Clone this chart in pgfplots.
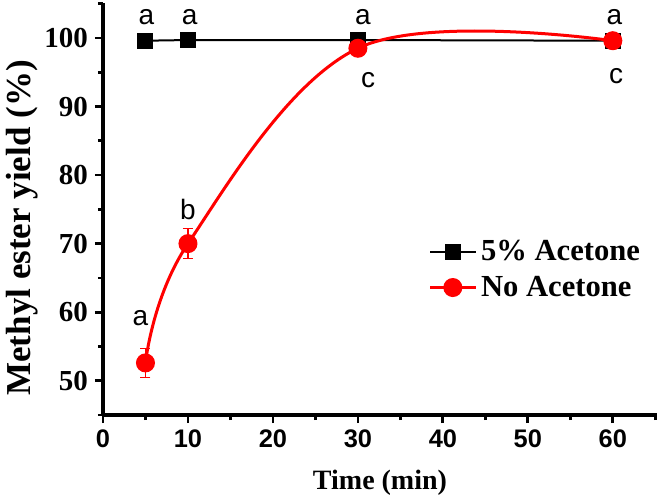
\documentclass[border=0pt]{standalone}
\usepackage{fontspec}
\setmainfont{Liberation Serif}
\newfontfamily\arial{Liberation Sans}
\usepackage{pgfplots}
\pgfplotsset{compat=1.18}
\definecolor{oRed}{RGB}{255,0,0}
\begin{document}
\begin{tikzpicture}
\useasboundingbox (-51.5pt,-42.5pt) rectangle (279pt,207.5pt);
\begin{axis}[
  scale only axis,
  width=277pt, height=206pt,
  xmin=0, xmax=65.2, ymin=45, ymax=105.1,
  axis x line*=bottom, axis y line*=left,
  axis line style={line width=1.8pt},
  xtick={0,10,...,60}, ytick={50,60,...,100},
  minor xtick={5,15,...,65}, minor ytick={45,55,...,105},
  tick align=outside,
  major tick length=4pt, minor tick length=2.5pt,
  every tick/.style={black, line width=1.4pt},
  /pgf/number format/assume math mode=true,
  xticklabel style={font=\arial\bfseries\fontsize{12.7}{12.7}\selectfont},
  yticklabel style={font=\bfseries\fontsize{14.5}{14.5}\selectfont},
  xlabel={\bfseries Time (min)},
  ylabel={\bfseries Methyl ester yield (\%)},
  xlabel style={font=\fontsize{14}{14}\selectfont, yshift=-4pt},
  ylabel style={font=\fontsize{17.5}{17.5}\selectfont, at={(rel axis cs:-0.146,0.454)}, anchor=center},
  legend cell align=left,
  legend image code/.code={\draw[mark repeat=2,mark phase=2] plot coordinates {(0cm,0cm) (0.4cm,0cm) (0.8cm,0cm)};},
  legend style={draw=none, fill=none, inner sep=0pt, at={(rel axis cs:0.587,0.434)}, anchor=north west,
    font=\bfseries\fontsize{15.3}{15.3}\selectfont, row sep=2pt},
]
\addplot[black, line width=1pt, mark=square*, mark size=3.5pt]
  coordinates {(5,99.6) (10,99.7) (30,99.7) (60,99.6)};
\addlegendentry{5\% Acetone}
\addplot[oRed, line width=1.5pt, smooth, tension=0.6,
  mark=*, mark size=4pt, mark options={solid, fill=oRed},
  error bars/.cd, y dir=both, y explicit,
  error bar style={line width=0.7pt, oRed},
  error mark options={rotate=90, mark size=2.5pt, line width=0.7pt, oRed}]
  coordinates {(5,52.6) +- (0,2.1) (10,70.0) +- (0,2.2) (30,98.5) +- (0,0.4) (60,99.6) +- (0,0.3)};
\addlegendentry{No Acetone}
\begin{scope}[font=\arial\fontsize{14}{14}\selectfont, inner sep=0pt]
\node at (axis cs:5.1,103.0) {a};
\node at (axis cs:10.2,103.0) {a};
\node at (axis cs:30.6,103.0) {a};
\node at (axis cs:60.2,103.0) {a};
\node at (axis cs:4.4,59.2) {a};
\node at (axis cs:10,75.0) {b};
\node at (axis cs:31.2,93.9) {c};
\node at (axis cs:60.4,94.5) {c};
\end{scope}
\end{axis}
\end{tikzpicture}
\end{document}
